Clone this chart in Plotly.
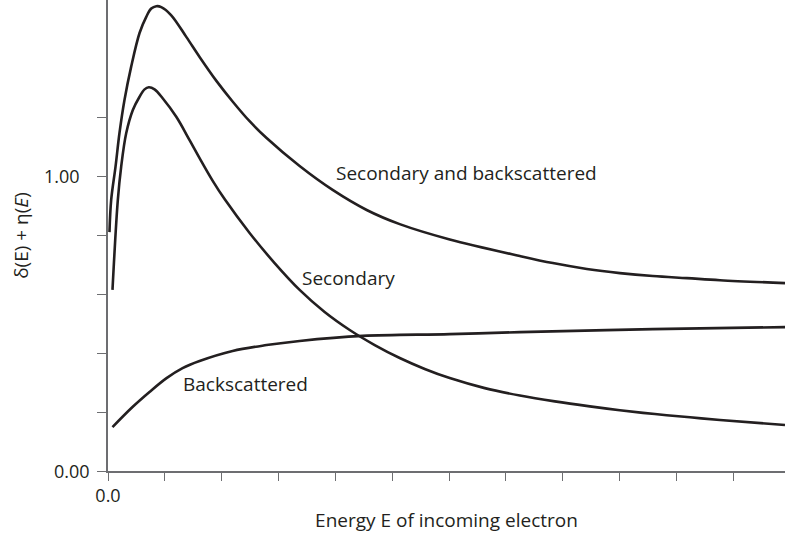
import plotly.graph_objects as go

# Energy (arbitrary units, one per x tick)
e_total = [0.026, 0.056, 0.132, 0.202, 0.290, 0.408, 0.555, 0.673, 0.761, 0.849, 0.937, 1.109,
           1.377, 1.611, 1.910, 2.192, 2.491, 2.790, 3.371, 3.952, 4.551, 5.132, 6.012,
           7.245, 7.826, 8.424, 9.005, 9.586, 10.185, 10.766, 11.910]
y_total = [0.810, 0.919, 1.031, 1.146, 1.258, 1.371, 1.485, 1.540, 1.568, 1.576, 1.573, 1.546,
           1.472, 1.404, 1.322, 1.253, 1.186, 1.129, 1.034, 0.953, 0.885, 0.837, 0.785,
           0.729, 0.705, 0.685, 0.671, 0.661, 0.654, 0.647, 0.637]

e_secondary = [0.079, 0.173, 0.232, 0.320, 0.437, 0.555, 0.643, 0.718, 0.819, 0.965, 1.201,
               1.435, 1.611, 1.845, 2.051, 2.491, 2.931, 3.371, 3.811, 4.252, 4.692, 5.132,
               5.572, 6.012, 6.628, 7.245, 7.861, 8.477, 9.005, 9.621, 10.238, 10.766, 11.910]
y_secondary = [0.614, 0.919, 1.032, 1.145, 1.224, 1.269, 1.294, 1.301, 1.294, 1.263, 1.201,
               1.122, 1.061, 0.983, 0.922, 0.807, 0.705, 0.614, 0.539, 0.478, 0.427, 0.383,
               0.346, 0.315, 0.281, 0.256, 0.236, 0.219, 0.206, 0.193, 0.182, 0.173, 0.156]

e_back = [0.079, 0.431, 0.730, 1.030, 1.312, 1.611, 2.192, 2.790, 3.371, 4.481, 6.012, 7.245,
          9.586, 11.910]
y_back = [0.149, 0.217, 0.268, 0.315, 0.349, 0.373, 0.407, 0.427, 0.441, 0.458, 0.464, 0.471,
          0.481, 0.488]

x_tickvals = list(range(12))
x_ticktext = ["0.0"] + [""] * 11
y_tickvals = [0, 0.2, 0.4, 0.6, 0.8, 1.0, 1.2]

labels = [
    ("Secondary and backscattered", 6.30, 1.01),
    ("Secondary", 4.23, 0.655),
    ("Backscattered", 2.42, 0.295),
]

FONT = "Open Sans"
TXT = "#231f20"
LINE = "#231f20"
AX = "#6d6e71"
FS = 19

fig = go.Figure()
for xs, ys in [(e_total, y_total), (e_secondary, y_secondary), (e_back, y_back)]:
    fig.add_trace(go.Scatter(x=xs, y=ys, mode="lines",
                             line=dict(color=LINE, width=2.6, shape="spline", smoothing=1.0),
                             showlegend=False, hoverinfo="skip"))

for text, x, y in labels:
    fig.add_annotation(x=x, y=y, text=text, showarrow=False, xanchor="center", yanchor="middle",
                       font=dict(family=FONT, size=FS, color=TXT))

# y tick labels
fig.add_annotation(xref="paper", x=0, y=1.0, text="1.00", showarrow=False, xanchor="right",
                   yanchor="middle", xshift=-26, font=dict(family=FONT, size=18, color=TXT))
fig.add_annotation(xref="paper", x=0, y=0.0, text="0.00", showarrow=False, xanchor="right",
                   yanchor="middle", xshift=-16, font=dict(family=FONT, size=18, color=TXT))

fig.update_layout(
    width=785, height=535,
    margin=dict(l=108, r=0, t=0, b=64),
    plot_bgcolor="white", paper_bgcolor="white",
    font=dict(family=FONT, size=FS, color=TXT),
    xaxis=dict(range=[0, 11.91], tickvals=x_tickvals, ticktext=x_ticktext,
               ticks="outside", ticklen=8, tickwidth=1, tickcolor=AX,
               showline=True, linecolor=AX, linewidth=1.5, showgrid=False, zeroline=False,
               tickfont=dict(family=FONT, size=18, color=TXT),
               title=dict(text="Energy E of incoming electron", standoff=7,
                          font=dict(family=FONT, size=FS, color=TXT))),
    yaxis=dict(range=[0, 1.597], tickvals=y_tickvals, showticklabels=False,
               ticks="outside", ticklen=9, tickwidth=1, tickcolor=AX,
               showline=True, linecolor=AX, linewidth=1.5, showgrid=False, zeroline=False,
               title=dict(text="δ(E) + η(<i>E</i>)", standoff=64,
                          font=dict(family=FONT, size=FS, color=TXT))),
)

fig.write_html("out.html")
